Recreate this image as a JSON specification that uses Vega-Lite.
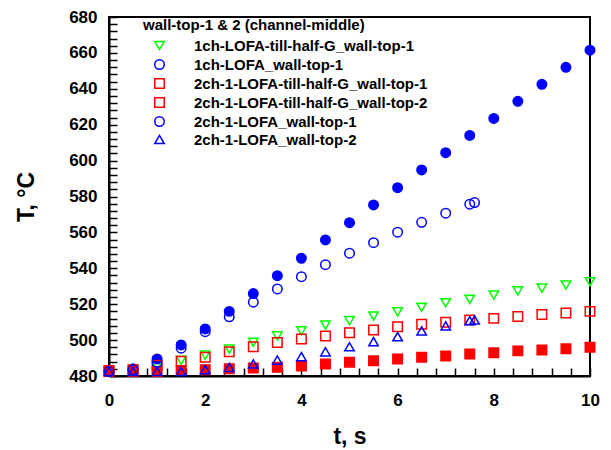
{
  "$schema": "https://vega.github.io/schema/vega-lite/v6.json",
  "width": 481,
  "height": 359,
  "autosize": {"type": "none"},
  "padding": {"left": 109, "top": 17, "right": 21, "bottom": 74},
  "config": {
    "font": "Liberation Sans",
    "view": {"stroke": "black", "strokeWidth": 2},
    "axis": {
      "grid": false,
      "domainColor": "black",
      "domainWidth": 2,
      "tickColor": "black",
      "tickWidth": 1.5,
      "labelColor": "black",
      "labelFontSize": 17,
      "labelFontWeight": "bold",
      "labelOverlap": false,
      "labelFlush": false,
      "titleColor": "black",
      "titleFontSize": 23,
      "titleFontWeight": "bold"
    },
    "legend": {
      "titleFontSize": 15,
      "titleFontWeight": "bold",
      "titleColor": "black",
      "titleLimit": 400,
      "labelFontSize": 15,
      "labelFontWeight": "bold",
      "labelColor": "black",
      "labelLimit": 400,
      "symbolSize": 90,
      "symbolStrokeWidth": 1.5
    }
  },
  "data": {
    "values": [
      {"s": "1ch-LOFA-till-half-G_wall-top-1", "t": 0, "T": 483},
      {"s": "1ch-LOFA-till-half-G_wall-top-1", "t": 0.5, "T": 484},
      {"s": "1ch-LOFA-till-half-G_wall-top-1", "t": 1, "T": 486},
      {"s": "1ch-LOFA-till-half-G_wall-top-1", "t": 1.5, "T": 488.7},
      {"s": "1ch-LOFA-till-half-G_wall-top-1", "t": 2, "T": 491.6},
      {"s": "1ch-LOFA-till-half-G_wall-top-1", "t": 2.5, "T": 495},
      {"s": "1ch-LOFA-till-half-G_wall-top-1", "t": 3, "T": 498.8},
      {"s": "1ch-LOFA-till-half-G_wall-top-1", "t": 3.5, "T": 502.3},
      {"s": "1ch-LOFA-till-half-G_wall-top-1", "t": 4, "T": 505.2},
      {"s": "1ch-LOFA-till-half-G_wall-top-1", "t": 4.5, "T": 508.4},
      {"s": "1ch-LOFA-till-half-G_wall-top-1", "t": 5, "T": 510.8},
      {"s": "1ch-LOFA-till-half-G_wall-top-1", "t": 5.5, "T": 513.4},
      {"s": "1ch-LOFA-till-half-G_wall-top-1", "t": 6, "T": 515.8},
      {"s": "1ch-LOFA-till-half-G_wall-top-1", "t": 6.5, "T": 518.3},
      {"s": "1ch-LOFA-till-half-G_wall-top-1", "t": 7, "T": 520.8},
      {"s": "1ch-LOFA-till-half-G_wall-top-1", "t": 7.5, "T": 522.7},
      {"s": "1ch-LOFA-till-half-G_wall-top-1", "t": 8, "T": 525.1},
      {"s": "1ch-LOFA-till-half-G_wall-top-1", "t": 8.5, "T": 527.4},
      {"s": "1ch-LOFA-till-half-G_wall-top-1", "t": 9, "T": 528.9},
      {"s": "1ch-LOFA-till-half-G_wall-top-1", "t": 9.5, "T": 530.7},
      {"s": "1ch-LOFA-till-half-G_wall-top-1", "t": 10, "T": 532.5},

      {"s": "1ch-LOFA_wall-top-1", "t": 0, "T": 482.5},
      {"s": "1ch-LOFA_wall-top-1", "t": 0.5, "T": 484},
      {"s": "1ch-LOFA_wall-top-1", "t": 1, "T": 489.5},
      {"s": "1ch-LOFA_wall-top-1", "t": 1.5, "T": 497.3},
      {"s": "1ch-LOFA_wall-top-1", "t": 2, "T": 506.2},
      {"s": "1ch-LOFA_wall-top-1", "t": 2.5, "T": 516},
      {"s": "1ch-LOFA_wall-top-1", "t": 3, "T": 525.9},
      {"s": "1ch-LOFA_wall-top-1", "t": 3.5, "T": 535.9},
      {"s": "1ch-LOFA_wall-top-1", "t": 4, "T": 545.6},
      {"s": "1ch-LOFA_wall-top-1", "t": 4.5, "T": 555.8},
      {"s": "1ch-LOFA_wall-top-1", "t": 5, "T": 565.4},
      {"s": "1ch-LOFA_wall-top-1", "t": 5.5, "T": 575.3},
      {"s": "1ch-LOFA_wall-top-1", "t": 6, "T": 584.9},
      {"s": "1ch-LOFA_wall-top-1", "t": 6.5, "T": 594.8},
      {"s": "1ch-LOFA_wall-top-1", "t": 7, "T": 604.4},
      {"s": "1ch-LOFA_wall-top-1", "t": 7.5, "T": 614},
      {"s": "1ch-LOFA_wall-top-1", "t": 8, "T": 623.5},
      {"s": "1ch-LOFA_wall-top-1", "t": 8.5, "T": 633},
      {"s": "1ch-LOFA_wall-top-1", "t": 9, "T": 642.5},
      {"s": "1ch-LOFA_wall-top-1", "t": 9.5, "T": 652},
      {"s": "1ch-LOFA_wall-top-1", "t": 10, "T": 661.5},

      {"s": "2ch-1-LOFA-till-half-G_wall-top-1", "t": 0, "T": 483},
      {"s": "2ch-1-LOFA-till-half-G_wall-top-1", "t": 0.5, "T": 483.5},
      {"s": "2ch-1-LOFA-till-half-G_wall-top-1", "t": 1, "T": 486},
      {"s": "2ch-1-LOFA-till-half-G_wall-top-1", "t": 1.5, "T": 488.2},
      {"s": "2ch-1-LOFA-till-half-G_wall-top-1", "t": 2, "T": 490.5},
      {"s": "2ch-1-LOFA-till-half-G_wall-top-1", "t": 2.5, "T": 493.5},
      {"s": "2ch-1-LOFA-till-half-G_wall-top-1", "t": 3, "T": 496.3},
      {"s": "2ch-1-LOFA-till-half-G_wall-top-1", "t": 3.5, "T": 498.6},
      {"s": "2ch-1-LOFA-till-half-G_wall-top-1", "t": 4, "T": 500.6},
      {"s": "2ch-1-LOFA-till-half-G_wall-top-1", "t": 4.5, "T": 502.3},
      {"s": "2ch-1-LOFA-till-half-G_wall-top-1", "t": 5, "T": 504.1},
      {"s": "2ch-1-LOFA-till-half-G_wall-top-1", "t": 5.5, "T": 505.6},
      {"s": "2ch-1-LOFA-till-half-G_wall-top-1", "t": 6, "T": 507.5},
      {"s": "2ch-1-LOFA-till-half-G_wall-top-1", "t": 6.5, "T": 508.8},
      {"s": "2ch-1-LOFA-till-half-G_wall-top-1", "t": 7, "T": 509.9},
      {"s": "2ch-1-LOFA-till-half-G_wall-top-1", "t": 7.5, "T": 511.2},
      {"s": "2ch-1-LOFA-till-half-G_wall-top-1", "t": 8, "T": 512.1},
      {"s": "2ch-1-LOFA-till-half-G_wall-top-1", "t": 8.5, "T": 513.2},
      {"s": "2ch-1-LOFA-till-half-G_wall-top-1", "t": 9, "T": 514.2},
      {"s": "2ch-1-LOFA-till-half-G_wall-top-1", "t": 9.5, "T": 515.1},
      {"s": "2ch-1-LOFA-till-half-G_wall-top-1", "t": 10, "T": 516},

      {"s": "2ch-1-LOFA-till-half-G_wall-top-2", "t": 0, "T": 482.5},
      {"s": "2ch-1-LOFA-till-half-G_wall-top-2", "t": 0.5, "T": 482.5},
      {"s": "2ch-1-LOFA-till-half-G_wall-top-2", "t": 1, "T": 482.5},
      {"s": "2ch-1-LOFA-till-half-G_wall-top-2", "t": 1.5, "T": 483},
      {"s": "2ch-1-LOFA-till-half-G_wall-top-2", "t": 2, "T": 483.5},
      {"s": "2ch-1-LOFA-till-half-G_wall-top-2", "t": 2.5, "T": 484},
      {"s": "2ch-1-LOFA-till-half-G_wall-top-2", "t": 3, "T": 484.5},
      {"s": "2ch-1-LOFA-till-half-G_wall-top-2", "t": 3.5, "T": 484.9},
      {"s": "2ch-1-LOFA-till-half-G_wall-top-2", "t": 4, "T": 485.6},
      {"s": "2ch-1-LOFA-till-half-G_wall-top-2", "t": 4.5, "T": 486.7},
      {"s": "2ch-1-LOFA-till-half-G_wall-top-2", "t": 5, "T": 487.6},
      {"s": "2ch-1-LOFA-till-half-G_wall-top-2", "t": 5.5, "T": 488.5},
      {"s": "2ch-1-LOFA-till-half-G_wall-top-2", "t": 6, "T": 489.5},
      {"s": "2ch-1-LOFA-till-half-G_wall-top-2", "t": 6.5, "T": 490.4},
      {"s": "2ch-1-LOFA-till-half-G_wall-top-2", "t": 7, "T": 491.1},
      {"s": "2ch-1-LOFA-till-half-G_wall-top-2", "t": 7.5, "T": 492.3},
      {"s": "2ch-1-LOFA-till-half-G_wall-top-2", "t": 8, "T": 493},
      {"s": "2ch-1-LOFA-till-half-G_wall-top-2", "t": 8.5, "T": 494},
      {"s": "2ch-1-LOFA-till-half-G_wall-top-2", "t": 9, "T": 494.5},
      {"s": "2ch-1-LOFA-till-half-G_wall-top-2", "t": 9.5, "T": 495.2},
      {"s": "2ch-1-LOFA-till-half-G_wall-top-2", "t": 10, "T": 496},

      {"s": "2ch-1-LOFA_wall-top-1", "t": 0, "T": 482.5},
      {"s": "2ch-1-LOFA_wall-top-1", "t": 0.5, "T": 483.5},
      {"s": "2ch-1-LOFA_wall-top-1", "t": 1, "T": 487.5},
      {"s": "2ch-1-LOFA_wall-top-1", "t": 1.5, "T": 495.5},
      {"s": "2ch-1-LOFA_wall-top-1", "t": 2, "T": 504.7},
      {"s": "2ch-1-LOFA_wall-top-1", "t": 2.5, "T": 513},
      {"s": "2ch-1-LOFA_wall-top-1", "t": 3, "T": 521.1},
      {"s": "2ch-1-LOFA_wall-top-1", "t": 3.5, "T": 528.5},
      {"s": "2ch-1-LOFA_wall-top-1", "t": 4, "T": 535.3},
      {"s": "2ch-1-LOFA_wall-top-1", "t": 4.5, "T": 542},
      {"s": "2ch-1-LOFA_wall-top-1", "t": 5, "T": 548.4},
      {"s": "2ch-1-LOFA_wall-top-1", "t": 5.5, "T": 554.3},
      {"s": "2ch-1-LOFA_wall-top-1", "t": 6, "T": 560.1},
      {"s": "2ch-1-LOFA_wall-top-1", "t": 6.5, "T": 565.6},
      {"s": "2ch-1-LOFA_wall-top-1", "t": 7, "T": 570.7},
      {"s": "2ch-1-LOFA_wall-top-1", "t": 7.5, "T": 575.7},
      {"s": "2ch-1-LOFA_wall-top-1", "t": 7.6, "T": 576.6},

      {"s": "2ch-1-LOFA_wall-top-2", "t": 0, "T": 482.5},
      {"s": "2ch-1-LOFA_wall-top-2", "t": 0.5, "T": 482.5},
      {"s": "2ch-1-LOFA_wall-top-2", "t": 1, "T": 482.5},
      {"s": "2ch-1-LOFA_wall-top-2", "t": 1.5, "T": 482.5},
      {"s": "2ch-1-LOFA_wall-top-2", "t": 2, "T": 483.5},
      {"s": "2ch-1-LOFA_wall-top-2", "t": 2.5, "T": 484.8},
      {"s": "2ch-1-LOFA_wall-top-2", "t": 3, "T": 486.7},
      {"s": "2ch-1-LOFA_wall-top-2", "t": 3.5, "T": 488.9},
      {"s": "2ch-1-LOFA_wall-top-2", "t": 4, "T": 490.8},
      {"s": "2ch-1-LOFA_wall-top-2", "t": 4.5, "T": 493.5},
      {"s": "2ch-1-LOFA_wall-top-2", "t": 5, "T": 496.3},
      {"s": "2ch-1-LOFA_wall-top-2", "t": 5.5, "T": 499.1},
      {"s": "2ch-1-LOFA_wall-top-2", "t": 6, "T": 501.9},
      {"s": "2ch-1-LOFA_wall-top-2", "t": 6.5, "T": 505.1},
      {"s": "2ch-1-LOFA_wall-top-2", "t": 7, "T": 507.9},
      {"s": "2ch-1-LOFA_wall-top-2", "t": 7.5, "T": 510.8},
      {"s": "2ch-1-LOFA_wall-top-2", "t": 7.6, "T": 511.2}
    ]
  },
  "mark": {"type": "point", "size": 90, "strokeWidth": 1.5, "opacity": 1},
  "encoding": {
    "x": {
      "field": "t",
      "type": "quantitative",
      "scale": {"domain": [0, 10], "nice": false},
      "axis": {
        "title": "t, s",
        "values": [0, 0.4, 0.8, 1.2, 1.6, 2, 2.4, 2.8, 3.2, 3.6, 4, 4.4, 4.8, 5.2, 5.6, 6, 6.4, 6.8, 7.2, 7.6, 8, 8.4, 8.8, 9.2, 9.6, 10],
        "labelExpr": "datum.value % 2 === 0 ? format(datum.value, 'd') : ''",
        "tickSize": -8,
        "labelPadding": 24,
        "titleBaseline": "alphabetic",
        "titleY": 67
      }
    },
    "y": {
      "field": "T",
      "type": "quantitative",
      "scale": {"domain": [480, 680], "nice": false, "zero": false},
      "axis": {
        "title": "T, °C",
        "values": [480, 484, 488, 492, 496, 500, 504, 508, 512, 516, 520, 524, 528, 532, 536, 540, 544, 548, 552, 556, 560, 564, 568, 572, 576, 580, 584, 588, 592, 596, 600, 604, 608, 612, 616, 620, 624, 628, 632, 636, 640, 644, 648, 652, 656, 660, 664, 668, 672, 676, 680],
        "labelExpr": "datum.value % 20 === 0 ? format(datum.value, 'd') : ''",
        "tickSize": -8,
        "labelPadding": 20,
        "titleAngle": -90,
        "titleBaseline": "alphabetic",
        "titleX": -76
      }
    },
    "color": {
      "field": "s",
      "type": "nominal",
      "title": "wall-top-1 & 2 (channel-middle)",
      "scale": {
        "domain": ["1ch-LOFA-till-half-G_wall-top-1", "1ch-LOFA_wall-top-1", "2ch-1-LOFA-till-half-G_wall-top-1", "2ch-1-LOFA-till-half-G_wall-top-2", "2ch-1-LOFA_wall-top-1", "2ch-1-LOFA_wall-top-2"],
        "range": ["#00ff00", "#0000ff", "#ff0000", "#ff0000", "#0000ff", "#0000ff"]
      },
      "legend": {"orient": "none", "legendX": 34, "legendY": 1, "symbolOffset": 9, "labelOffset": 27}
    },
    "shape": {
      "field": "s",
      "type": "nominal",
      "title": "wall-top-1 & 2 (channel-middle)",
      "scale": {
        "domain": ["1ch-LOFA-till-half-G_wall-top-1", "1ch-LOFA_wall-top-1", "2ch-1-LOFA-till-half-G_wall-top-1", "2ch-1-LOFA-till-half-G_wall-top-2", "2ch-1-LOFA_wall-top-1", "2ch-1-LOFA_wall-top-2"],
        "range": ["triangle-down", "circle", "square", "square", "circle", "triangle-up"]
      },
      "legend": {"orient": "none", "legendX": 34, "legendY": 1, "symbolOffset": 9, "labelOffset": 27}
    },
    "fill": {
      "condition": [
        {"test": "datum.s === '1ch-LOFA_wall-top-1'", "value": "#0000ff"},
        {"test": "datum.s === '2ch-1-LOFA-till-half-G_wall-top-2'", "value": "#ff0000"}
      ],
      "value": "transparent"
    }
  }
}
